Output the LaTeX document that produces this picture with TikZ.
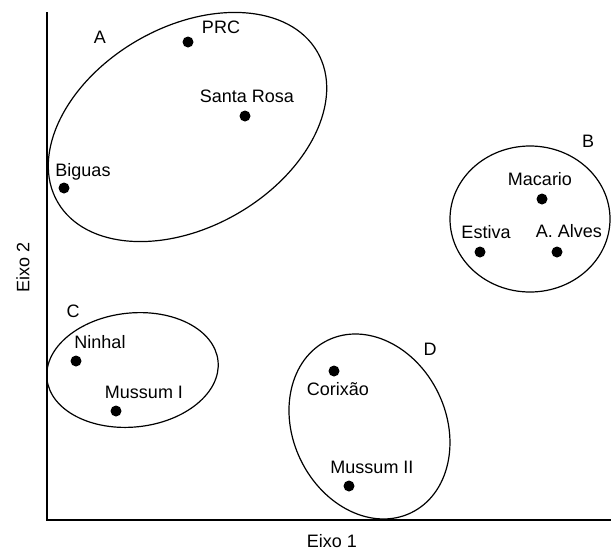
\documentclass[tikz,border=0pt]{standalone}
\usepackage{fontspec}
\setmainfont{Liberation Sans}
\begin{document}
\begin{tikzpicture}[x=0.75pt,y=-0.75pt,
    dot/.style={circle,fill=black,inner sep=0pt,minimum size=8.25pt},
    txt/.style={anchor=base,inner sep=0pt,font=\fontsize{13.5}{16}\selectfont},
    grp/.style={line width=0.9pt}]
    \useasboundingbox (0,0) rectangle (611,551);
    % axes
    \coordinate (top) at (47,12);
    \coordinate (o) at (47,520);
    \coordinate (end) at (611,520);
    \draw[line width=0.8pt] (top) -- (o) -- (end);
    \node[txt] (eixo1) at (332,547) {Eixo 1};
    \node[inner sep=0pt,rotate=90,font=\fontsize{13.5}{16}\selectfont] (eixo2) at (23,267) {Eixo 2};
    % groups
    \coordinate (cA) at (187.5,127);
    \coordinate (cB) at (530,219);
    \coordinate (cC) at (132.5,370);
    \coordinate (cD) at (369.5,426.5);
    \draw[grp,rotate around={30:(cA)}] (cA) ellipse [x radius=150,y radius=100];
    \draw[grp] (cB) ellipse [x radius=80,y radius=73];
    \draw[grp,rotate around={6:(cC)}] (cC) ellipse [x radius=86,y radius=57];
    \draw[grp,rotate around={25.7:(cD)}] (cD) ellipse [x radius=76.5,y radius=95.8];
    \node[txt] (A) at (100,43) {A};
    \node[txt] (B) at (588,147) {B};
    \node[txt] (C) at (73,317) {C};
    \node[txt] (D) at (430,355) {D};
    % sites
    \node[dot] (prc) at (188,42) {};
    \node[dot] (srosa) at (245,116) {};
    \node[dot] (biguas) at (64,188) {};
    \node[dot] (macario) at (542,199) {};
    \node[dot] (estiva) at (480,252) {};
    \node[dot] (alves) at (557,252) {};
    \node[dot] (ninhal) at (76,361) {};
    \node[dot] (mussumI) at (116,411) {};
    \node[dot] (corixao) at (334,371) {};
    \node[dot] (mussumII) at (349,486) {};
    \node[txt] at (221,33) {PRC};
    \node[txt] at (247,102) {Santa Rosa};
    \node[txt] at (83,176) {Biguas};
    \node[txt] at (540,185) {Macario};
    \node[txt] at (486,238) {Estiva};
    \node[txt] at (569,237) {A. Alves};
    \node[txt] at (100,348) {Ninhal};
    \node[txt] at (144,398) {Mussum I};
    \node[txt] at (338,395) {Corixão};
    \node[txt] at (372,473) {Mussum II};
\end{tikzpicture}
\end{document}
